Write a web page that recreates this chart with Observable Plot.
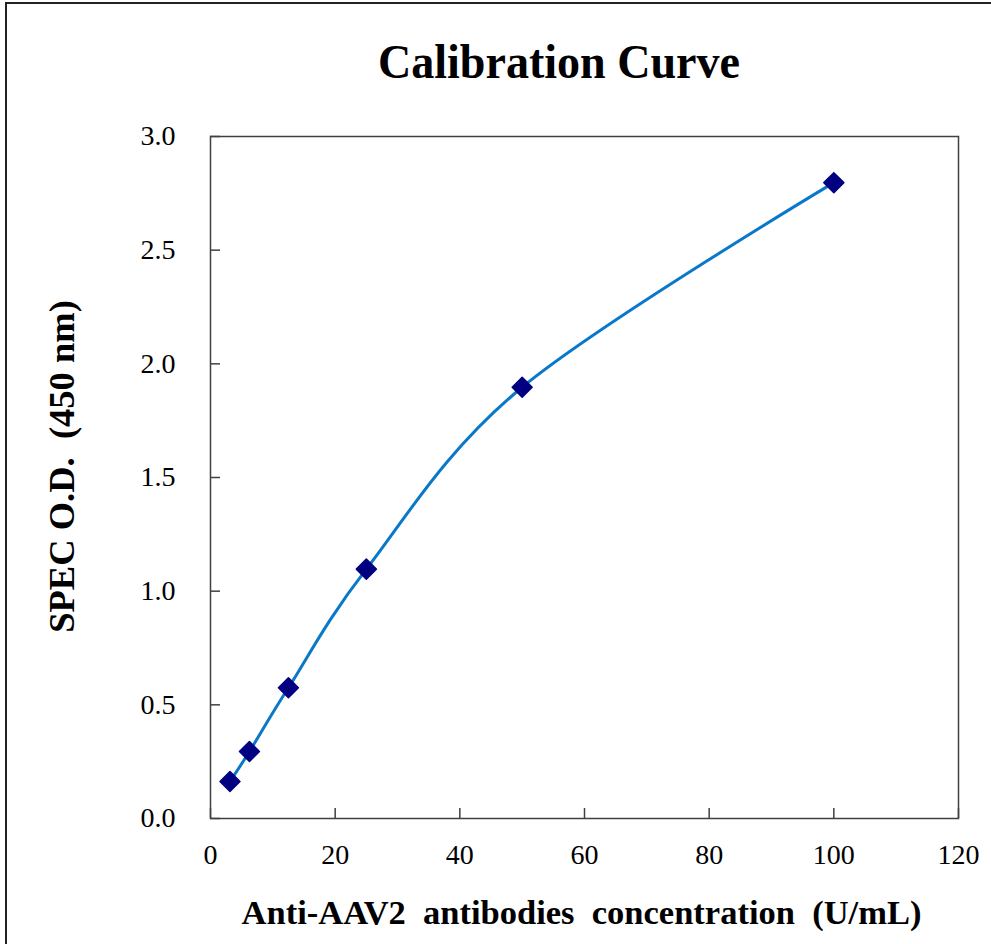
<!DOCTYPE html>
<html>
<head>
<meta charset="utf-8">
<script src="https://cdn.jsdelivr.net/npm/d3@7"></script>
<script src="https://cdn.jsdelivr.net/npm/@observablehq/plot@0.6"></script>
<style>
  html, body { margin: 0; padding: 0; background: #fff; }
  #wrap { position: relative; width: 991px; height: 944px; overflow: hidden; background: #fff; }
  #border { position: absolute; left: 5px; top: 2px; width: 1000px; height: 1000px;
            border-top: 2px solid #222; border-left: 2px solid #222; }
  #title { position: absolute; left: 559px; top: 38px; white-space: nowrap;
           font-family: "Liberation Serif", "Times New Roman", serif; font-weight: bold;
           font-size: 49px; line-height: 48px; color: #000;
           transform: translateX(-50%) scaleX(0.94); transform-origin: center; }
  #chart { position: absolute; left: 0; top: 100px; }
</style>
</head>
<body>
<div id="wrap">
  <div id="border"></div>
  <div id="title">Calibration Curve</div>
  <div id="chart"></div>
</div>
<script>
const conc = [3.125, 6.25, 12.5, 25, 50, 100];
const od = [0.163, 0.295, 0.575, 1.097, 1.897, 2.797];
const xTicks = [0, 20, 40, 60, 80, 100, 120];
const yTicks = [0, 0.5, 1.0, 1.5, 2.0, 2.5, 3.0];
const xLabel = "Anti-AAV2\u00a0\u00a0antibodies\u00a0\u00a0concentration\u00a0\u00a0(U/mL)";
const yLabel = "SPEC O.D.\u00a0\u00a0(450 nm)";

const FONT = '"Liberation Serif", "Times New Roman", serif';
const data = conc.map((c, i) => ({conc: c, od: od[i]}));

const chart = Plot.plot({
  width: 991,
  height: 844,
  marginTop: 36,
  marginBottom: 126,
  marginLeft: 210,
  marginRight: 33,
  style: {fontFamily: FONT, color: "#000", background: "transparent", overflow: "visible"},
  x: {domain: [0, 120]},
  y: {domain: [0, 3]},
  marks: [
    Plot.frame({stroke: "#404040", strokeWidth: 1.5}),
    Plot.axisX(xTicks, {anchor: "bottom", tickSize: -10, tickPadding: 36, fontSize: 28, label: null, stroke: "#404040", strokeWidth: 1.5}),
    Plot.axisY(yTicks, {anchor: "left", tickSize: -10, tickPadding: 45, fontSize: 28, label: null, tickFormat: d3.format(".1f"), stroke: "#404040", strokeWidth: 1.5}),
    Plot.line(data, {x: "conc", y: "od", stroke: "#0a78c8", strokeWidth: 3, curve: "cardinal"}),
    Plot.dot(data, {x: "conc", y: "od", symbol: "diamond2", r: 9, fill: "#000080", stroke: "#000080", strokeWidth: 1.5, strokeLinejoin: "round"}),
    Plot.text([xLabel], {frameAnchor: "bottom", dx: -3, dy: 94, lineAnchor: "middle", textAnchor: "middle", fontSize: 34.5, fontWeight: "bold", fill: "#000"}),
    Plot.text([yLabel], {frameAnchor: "left", dx: -148, dy: -11, rotate: -90, lineAnchor: "middle", textAnchor: "middle", fontSize: 36.5, fontWeight: "bold", fill: "#000"})
  ]
});
document.getElementById("chart").appendChild(chart);
</script>
</body>
</html>
